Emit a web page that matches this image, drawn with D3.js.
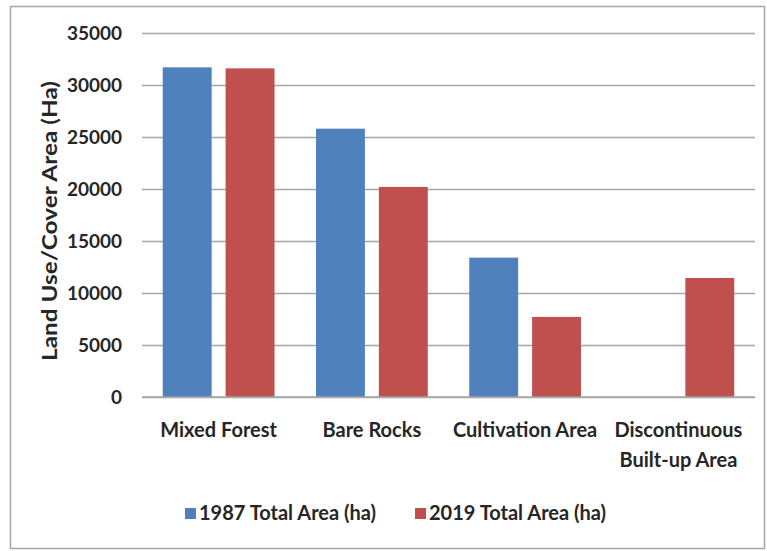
<!DOCTYPE html>
<html>
<head>
<meta charset="utf-8">
<script src="https://cdn.jsdelivr.net/npm/d3@7"></script>
<style>
  html, body { margin: 0; padding: 0; background: #fff; }
  svg { display: block; }
  text { font-family: Lato, "Open Sans", sans-serif; font-weight: bold; fill: #262626; }
</style>
</head>
<body>
<svg id="chart" width="767" height="551"></svg>
<script>
const categories = ["Mixed Forest", "Bare Rocks", "Cultivation Area", "Discontinuous Built-up Area"];
const categoryLines = [["Mixed Forest"], ["Bare Rocks"], ["Cultivation Area"], ["Discontinuous", "Built-up Area"]];
const seriesNames = ["1987 Total Area (ha)", "2019 Total Area (ha)"];
const values1987 = [31700, 25800, 13400, 0];
const values2019 = [31600, 20200, 7700, 11450];
const yTicks = [0, 5000, 10000, 15000, 20000, 25000, 30000, 35000];
const colors = ["#4f81bd", "#c0504d"];

const svg = d3.select("#chart");
const W = 767, H = 551;
const m = { left: 142, right: 12, top: 33, bottom: 154 };

// outer border
svg.append("rect").attr("x", 10.5).attr("y", 6.5).attr("width", 754).attr("height", 542)
  .attr("fill", "#fff").attr("stroke", "#a6a6a6").attr("stroke-width", 1.5);

const x0 = d3.scaleBand().domain(categories).range([m.left, W - m.right]).paddingInner(0).paddingOuter(0);
const x1 = d3.scaleBand().domain(seriesNames).range([0, x0.bandwidth()]).paddingInner(0.222).paddingOuter(0.33);
const y = d3.scaleLinear().domain([0, 35000]).range([H - m.bottom, m.top]);

// gridlines
const yAxis = d3.axisLeft(y).tickValues(yTicks).tickSize(-(W - m.right - m.left)).tickPadding(20).tickFormat(d3.format("d"));
const gy = svg.append("g").attr("transform", `translate(${m.left},0)`).call(yAxis);
gy.select(".domain").remove();
gy.selectAll(".tick line").attr("stroke", "#a6a6a6").attr("stroke-width", 1.5);
gy.selectAll(".tick text").attr("font-size", 19).attr("font-family", "Lato, sans-serif").attr("font-weight", "bold").attr("fill", "#262626");

// bars
const data = categories.map((c, i) => ({ c, vals: [values1987[i], values2019[i]] }));
const groups = svg.append("g").selectAll("g").data(data).join("g")
  .attr("transform", d => `translate(${x0(d.c)},0)`);
groups.selectAll("rect").data(d => d.vals.map((v, j) => ({ v, s: seriesNames[j], j })))
  .join("rect")
  .filter(d => d.v > 0)
  .attr("x", d => x1(d.s))
  .attr("width", x1.bandwidth())
  .attr("y", d => y(d.v))
  .attr("height", d => y(0) - y(d.v))
  .attr("fill", d => colors[d.j]);

// x axis baseline redraw on top
svg.append("line").attr("x1", m.left).attr("x2", W - m.right).attr("y1", y(0)).attr("y2", y(0))
  .attr("stroke", "#a6a6a6").attr("stroke-width", 1.5);

// category labels
const xl = svg.append("g");
categories.forEach((c, i) => {
  const cx = x0(c) + x0.bandwidth() / 2;
  const t = xl.append("text").attr("text-anchor", "middle").attr("font-size", 20)
    .attr("x", cx).attr("y", 437);
  categoryLines[i].forEach((ln, k) => {
    t.append("tspan").attr("x", cx).attr("dy", k === 0 ? 0 : 30).text(ln);
  });
});

// y axis title
svg.append("text").attr("transform", `translate(57,221) rotate(-90)`)
  .attr("text-anchor", "middle").attr("font-size", 20)
  .attr("textLength", 280).attr("lengthAdjust", "spacingAndGlyphs")
  .text("Land Use/Cover Area (Ha)");

// legend
const legendX = [185, 415];
const lg = svg.append("g");
seriesNames.forEach((s, i) => {
  lg.append("rect").attr("x", legendX[i]).attr("y", 508).attr("width", 11).attr("height", 11).attr("fill", colors[i]);
  lg.append("text").attr("x", legendX[i] + 14).attr("y", 520).attr("font-size", 20).text(s);
});
</script>
</body>
</html>
